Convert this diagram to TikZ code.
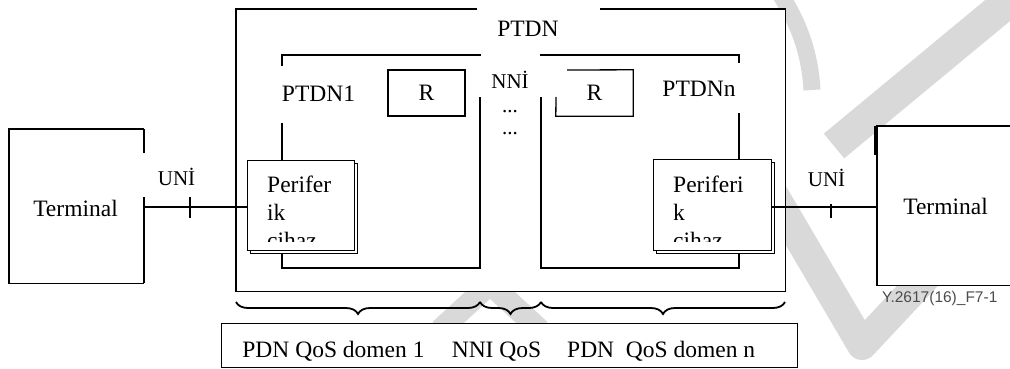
\documentclass[tikz,border=0pt]{standalone}
\usepackage{fontspec}
\setmainfont{Liberation Serif}
\newfontfamily\figsans{Liberation Sans}
\usetikzlibrary{decorations.pathreplacing,shadows}
\begin{document}
\begin{tikzpicture}[x=1pt,y=-1pt,
  ln/.style={line width=1.3pt},
  thk/.style={line width=2.4pt},
  wm/.style={draw=black!15},
  txt/.style={font=\fontsize{23.5}{28}\selectfont, inner sep=0pt},
  small/.style={font=\fontsize{21}{24}\selectfont, inner sep=0pt},
  box/.style={draw, line width=1.3pt, fill=white, inner sep=0pt},
  whitebox/.style={fill=white, inner sep=0pt},
  perbox/.style={box, copy shadow={shadow xshift=3pt, shadow yshift=-3pt}},
  brc/.style={decorate, decoration={brace, mirror, amplitude=12pt}, line width=1.8pt}]
\useasboundingbox (0,0) rectangle (1010,369);

% watermark
\begin{scope}[wm]
\draw[line width=32pt] (1020,-8) -- (834,146);
\draw[line width=17pt] (780,-6) .. controls (800,25) and (810,55) .. (812,90);
\draw[line width=30pt, line join=round] (772,192) -- (862,345) -- (965,235);
\draw[line width=22pt, line join=miter] (440,330) -- (490,284) -- (540,330);
\end{scope}

% outer PTDN box
\node[whitebox, minimum width=549pt, minimum height=282pt, anchor=north west] (ptdn) at (236,9) {};
\draw[ln] (477,9) -- (ptdn.north west) -- (ptdn.south west) -- (ptdn.south east) -- (ptdn.north east) -- (600,9);
\node[txt] (ptdnlbl) at (528,29) {PTDN};

% inner PTDN1
\draw[ln] (282,66) -- (282,55) -- (481,55);
\draw[ln] (282,123) -- (282,268) -- (480,268) -- (480,97);
\node[txt] (ptdn1) at (318.5,93.5) {PTDN1};

% inner PTDNn
\draw[ln] (540,55) -- (739,55) -- (739,63);
\draw[ln] (739,113) -- (739,268) -- (541,268) -- (541,97);
\node[txt] (ptdnn) at (699,89) {PTDNn};

% R boxes
\node[box, minimum width=77pt, minimum height=46pt] (RL) at (426.5,93) {\fontsize{23.5}{28}\selectfont R};
\node[whitebox, minimum width=77pt, minimum height=46pt] (RR) at (594.5,93) {\fontsize{23.5}{28}\selectfont R};
\draw[ln] (567,70) -- (RR.north east) -- (RR.south east) -- (RR.south west) -- (556,97);

% NNI
\node[small] (nni) at (510,80) {NNİ};
\node[small, anchor=base] (dots1) at (510,112) {...};
\node[small, anchor=base] (dots2) at (510,135) {...};

% Periferik boxes
\node[perbox, minimum width=107pt, minimum height=90pt, anchor=north west] (perL) at (247,160) {};
\node[perbox, minimum width=118pt, minimum height=91pt, anchor=north west] (perR) at (653,159) {};
\begin{scope}
\clip (247,160) rectangle (354,241);
\node[txt, anchor=base west] (pl1) at (267,192) {Perifer};
\node[txt, anchor=base west] (pl2) at (267,220) {ik};
\node[txt, anchor=base west] (pl3) at (267,248) {cihaz};
\end{scope}
\begin{scope}
\clip (653,159) rectangle (771,241);
\node[txt, anchor=base west] (pr1) at (673,192) {Periferi};
\node[txt, anchor=base west] (pr2) at (673,220) {k};
\node[txt, anchor=base west] (pr3) at (673,248) {cihaz};
\end{scope}

% Terminals
\node[whitebox, minimum width=135pt, minimum height=154pt, anchor=north west] (termL) at (9,129) {};
\draw[ln] (termL.north east) -- (termL.north west) -- (termL.south west) -- (termL.south east);
\draw[thk] (144,129) -- (144,153);
\draw[thk] (144,197) -- (144,283);
\node[txt] (termLt) at (75.5,208.5) {Terminal};

\node[whitebox, minimum width=140pt, minimum height=159pt, anchor=north west] (termR) at (877,126) {};
\draw[ln] (termR.north east) -- (termR.north west) -- (termR.south west) -- (termR.south east);
\draw[thk] (875.5,126) -- (875.5,155);
\node[txt] (termRt) at (945.5,206) {Terminal};

% UNI connectors
\coordinate (uL) at (190,207);
\coordinate (uR) at (831,207);
\draw[ln] (termL.east |- uL) -- (perL.west |- uL);
\draw[ln] (perR.east |- uR) -- (termR.west |- uR);
\draw[ln] (190,197) -- (190,218);
\draw[ln] (831,204) -- (831,218);
\node[small, anchor=base] (uniL) at (176.5,185) {UNİ};
\node[small, anchor=base] (uniR) at (826.5,186.5) {UNİ};

% braces
\coordinate (b0) at (236,302);
\coordinate (b1) at (480,302);
\coordinate (b2) at (541,302);
\coordinate (b3) at (785,302);
\draw[brc] (b0) -- (b1);
\draw[brc] (b1) -- (b2);
\draw[brc] (b2) -- (b3);

% bottom box
\node[box, minimum width=576pt, minimum height=44pt, anchor=north west] (qos) at (221,323) {};
\node[txt, anchor=base] (q1) at (333.5,357) {PDN QoS domen 1};
\node[txt, anchor=base] (q2) at (496.5,357) {NNI QoS};
\node[txt, anchor=base west] (q3) at (567,357) {PDN~~QoS domen n};

% figure id
\node[font=\figsans\fontsize{15.5}{18}\selectfont, text=black!70, anchor=base west, inner sep=0pt] (figid) at (882,302) {Y.2617(16)\_F7-1};
\end{tikzpicture}
\end{document}
